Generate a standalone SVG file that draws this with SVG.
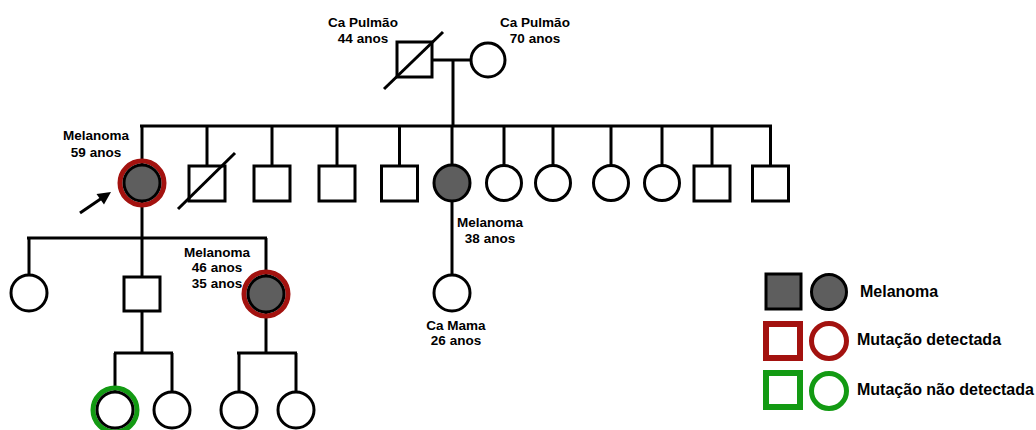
<svg xmlns="http://www.w3.org/2000/svg" width="1036" height="430" viewBox="0 0 1036 430">
  <style>
    .ln { stroke: #000; stroke-width: 3; fill: none; }
    .sym { stroke: #000; stroke-width: 3; fill: #fff; }
    .aff { fill: #5e5e5e; }
    .mut { stroke: #a3120f; stroke-width: 5; fill: none; }
    .neg { stroke: #139a13; stroke-width: 5; fill: none; }
    .box { stroke-width: 6; }
    .lbl { font-family: "Liberation Sans", Arial, sans-serif; font-weight: bold; font-size: 13.5px; text-anchor: middle; fill: #000; }
    .leg { font-family: "Liberation Sans", Arial, sans-serif; font-weight: bold; font-size: 16px; fill: #000; }
  </style>

  <!-- connectors -->
  <g id="connectors" class="ln">
    <!-- grandparents couple and descent -->
    <line x1="432" y1="60" x2="472" y2="60"/>
    <line x1="453" y1="60" x2="453" y2="126"/>
    <!-- sibship line -->
    <line x1="140" y1="126" x2="772" y2="126"/>
    <line x1="142" y1="126" x2="142" y2="165"/>
    <line x1="207" y1="126" x2="207" y2="166"/>
    <line x1="272" y1="126" x2="272" y2="166"/>
    <line x1="337" y1="126" x2="337" y2="166"/>
    <line x1="399.5" y1="126" x2="399.5" y2="166"/>
    <line x1="452" y1="126" x2="452" y2="165"/>
    <line x1="504" y1="126" x2="504" y2="165"/>
    <line x1="553" y1="126" x2="553" y2="165"/>
    <line x1="611" y1="126" x2="611" y2="165"/>
    <line x1="662" y1="126" x2="662" y2="165"/>
    <line x1="712" y1="126" x2="712" y2="166"/>
    <line x1="770.5" y1="126" x2="770.5" y2="166"/>
    <!-- proband's children -->
    <line x1="142" y1="201" x2="142" y2="238"/>
    <line x1="27" y1="238" x2="267" y2="238"/>
    <line x1="29" y1="238" x2="29" y2="275"/>
    <line x1="142" y1="238" x2="142" y2="277"/>
    <line x1="266" y1="238" x2="266" y2="276"/>
    <!-- affected sister's daughter -->
    <line x1="452" y1="201" x2="452" y2="275"/>
    <!-- grandchildren via son -->
    <line x1="142" y1="311" x2="142" y2="353"/>
    <line x1="114" y1="353" x2="173" y2="353"/>
    <line x1="115" y1="353" x2="115" y2="392"/>
    <line x1="172" y1="353" x2="172" y2="392"/>
    <!-- grandchildren via daughter -->
    <line x1="266" y1="312" x2="266" y2="353"/>
    <line x1="237" y1="353" x2="297" y2="353"/>
    <line x1="239" y1="353" x2="239" y2="392"/>
    <line x1="296" y1="353" x2="296" y2="392"/>
    <!-- proband arrow -->
    <line x1="80" y1="213" x2="102" y2="198"/>
    <polygon points="111,192 104,204.5 96.5,194" fill="#000" stroke="none"/>
  </g>

  <!-- generation I -->
  <g id="grandfather">
    <rect class="sym" x="397" y="42" width="35" height="35"/>
    <line class="ln" x1="384" y1="89" x2="443" y2="32"/>
    <text class="lbl" x="363" y="27">Ca Pulmão</text>
    <text class="lbl" x="363" y="43">44 anos</text>
  </g>
  <g id="grandmother">
    <circle class="sym" cx="488" cy="60" r="17"/>
    <text class="lbl" x="535" y="27">Ca Pulmão</text>
    <text class="lbl" x="535" y="43">70 anos</text>
  </g>

  <!-- generation II -->
  <g id="proband">
    <circle class="mut" cx="142" cy="183" r="22"/>
    <circle class="sym aff" cx="142" cy="183" r="18"/>
    <text class="lbl" x="96" y="140">Melanoma</text>
    <text class="lbl" x="96" y="157">59 anos</text>
  </g>
  <g id="sib2">
    <rect class="sym" x="189" y="166" width="36" height="35"/>
    <line class="ln" x1="178" y1="209" x2="235" y2="153"/>
  </g>
  <g id="sib3"><rect class="sym" x="254" y="166" width="36" height="35"/></g>
  <g id="sib4"><rect class="sym" x="319" y="166" width="36" height="35"/></g>
  <g id="sib5"><rect class="sym" x="381.5" y="166" width="36" height="35"/></g>
  <g id="sib6">
    <circle class="sym aff" cx="452" cy="183" r="18"/>
    <text class="lbl" x="490" y="227">Melanoma</text>
    <text class="lbl" x="490" y="243">38 anos</text>
  </g>
  <g id="sib7"><circle class="sym" cx="504" cy="183" r="17.5"/></g>
  <g id="sib8"><circle class="sym" cx="553" cy="183" r="17.5"/></g>
  <g id="sib9"><circle class="sym" cx="611" cy="183" r="17.5"/></g>
  <g id="sib10"><circle class="sym" cx="662" cy="183" r="17.5"/></g>
  <g id="sib11"><rect class="sym" x="694" y="166" width="36" height="35"/></g>
  <g id="sib12"><rect class="sym" x="752.5" y="166" width="36" height="35"/></g>

  <!-- generation III -->
  <g id="child1"><circle class="sym" cx="29" cy="293" r="18"/></g>
  <g id="child2"><rect class="sym" x="124" y="277" width="36" height="34"/></g>
  <g id="child3">
    <circle class="mut" cx="266" cy="294" r="22"/>
    <circle class="sym aff" cx="266" cy="294" r="18"/>
    <text class="lbl" x="217" y="257">Melanoma</text>
    <text class="lbl" x="217" y="272">46 anos</text>
    <text class="lbl" x="217" y="288">35 anos</text>
  </g>
  <g id="cousin">
    <circle class="sym" cx="452" cy="293" r="18"/>
    <text class="lbl" x="456" y="330">Ca Mama</text>
    <text class="lbl" x="456" y="345">26 anos</text>
  </g>

  <!-- generation IV -->
  <g id="grandchild1">
    <circle class="neg" cx="115" cy="410" r="22"/>
    <circle class="sym" cx="115" cy="410" r="18"/>
  </g>
  <g id="grandchild2"><circle class="sym" cx="172" cy="410" r="18"/></g>
  <g id="grandchild3"><circle class="sym" cx="239" cy="410" r="18"/></g>
  <g id="grandchild4"><circle class="sym" cx="296" cy="410" r="18"/></g>

  <!-- legend -->
  <g id="legend">
    <rect class="sym aff" x="766" y="274" width="35" height="35"/>
    <circle class="sym aff" cx="829" cy="292" r="17.5"/>
    <text class="leg" x="860" y="297">Melanoma</text>
    <rect class="mut box" x="766" y="324" width="34" height="34"/>
    <circle class="mut" cx="829" cy="341" r="17.5"/>
    <text class="leg" x="857" y="345">Mutação detectada</text>
    <rect class="neg box" x="766" y="373" width="34" height="34"/>
    <circle class="neg" cx="829" cy="391" r="17.5"/>
    <text class="leg" x="857" y="395">Mutação não detectada</text>
  </g>
</svg>
